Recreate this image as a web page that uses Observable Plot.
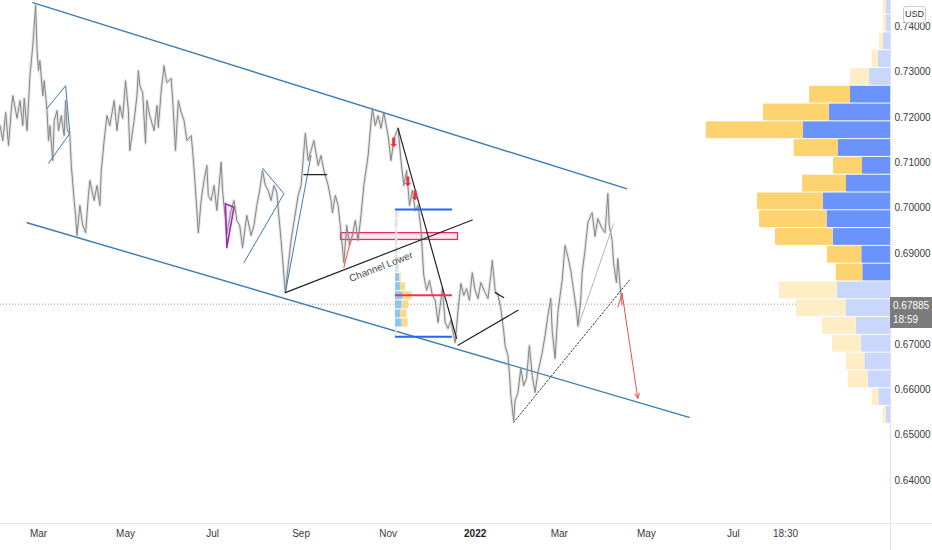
<!DOCTYPE html>
<html><head><meta charset="utf-8">
<script src="https://cdn.jsdelivr.net/npm/d3@7"></script>
<script src="https://cdn.jsdelivr.net/npm/@observablehq/plot@0.6"></script>
<style>
body{margin:0;background:#fff;}
#wrap{position:relative;width:932px;height:550px;overflow:hidden;font-family:"Liberation Sans",Arial,sans-serif;}
#wrap svg{display:block;}
.vline{position:absolute;left:890px;top:0;width:1px;height:550px;background:#e0e3eb;}
.hline{position:absolute;left:0;top:523px;width:932px;height:1px;background:#e0e3eb;}
.pbox{position:absolute;left:890px;width:42px;height:31px;background:#7b7b7b;color:#fff;font-size:10px;line-height:14px;padding-left:3px;box-sizing:border-box;padding-top:2px;}
.usd{position:absolute;left:903px;top:6px;width:21px;height:15px;border:1px solid #c9ccd6;border-radius:3px;font-size:9px;line-height:15px;text-align:center;color:#333;background:#fff;}
</style></head><body><div id="wrap"></div>
<script>
// ---- price series (close) ----
const closeSeries = [
["2021-02-02",0.7182],["2021-02-04",0.7149],["2021-02-06",0.7211],["2021-02-08",0.7138],["2021-02-10",0.7220],
["2021-02-11",0.7248],["2021-02-14",0.7198],["2021-02-16",0.7237],["2021-02-18",0.7182],["2021-02-19",0.7242],
["2021-02-21",0.7171],["2021-02-23",0.7292],["2021-02-24",0.7325],["2021-02-25",0.7358],["2021-02-27",0.7447],
["2021-02-28",0.7347],["2021-03-01",0.7303],["2021-03-02",0.7325],["2021-03-04",0.7248],["2021-03-05",0.7281],
["2021-03-07",0.7215],["2021-03-08",0.7149],["2021-03-09",0.7182],["2021-03-11",0.7105],["2021-03-12",0.7193],
["2021-03-14",0.7215],["2021-03-15",0.7171],["2021-03-17",0.7204],["2021-03-19",0.7160],["2021-03-20",0.7237],
["2021-03-21",0.7176],["2021-03-23",0.7160],["2021-03-24",0.7094],["2021-03-26",0.7017],["2021-03-27",0.6984],
["2021-03-28",0.6940],["2021-03-30",0.7006],["2021-04-01",0.6962],["2021-04-03",0.6946],["2021-04-05",0.7028],
["2021-04-06",0.7061],["2021-04-09",0.7017],["2021-04-11",0.7050],["2021-04-13",0.7006],["2021-04-14",0.7083],
["2021-04-16",0.7149],["2021-04-18",0.7204],["2021-04-20",0.7182],["2021-04-23",0.7237],["2021-04-25",0.7171],
["2021-04-27",0.7226],["2021-04-29",0.7198],["2021-05-01",0.7281],["2021-05-03",0.7215],["2021-05-04",0.7127],
["2021-05-07",0.7193],["2021-05-09",0.7248],["2021-05-10",0.7303],["2021-05-11",0.7270],["2021-05-13",0.7255],
["2021-05-15",0.7143],["2021-05-16",0.7237],["2021-05-18",0.7204],["2021-05-21",0.7171],["2021-05-23",0.7226],
["2021-05-24",0.7178],["2021-05-26",0.7259],["2021-05-28",0.7314],["2021-05-29",0.7292],["2021-05-30",0.7277],
["2021-06-02",0.7286],["2021-06-03",0.7242],["2021-06-05",0.7127],["2021-06-07",0.7237],["2021-06-09",0.7211],
["2021-06-11",0.7193],["2021-06-13",0.7149],["2021-06-16",0.7160],["2021-06-17",0.7127],["2021-06-18",0.7088],
["2021-06-20",0.6995],["2021-06-21",0.6946],["2021-06-23",0.7017],["2021-06-25",0.7061],["2021-06-27",0.7094],
["2021-06-28",0.7028],["2021-06-30",0.7017],["2021-07-02",0.7050],["2021-07-04",0.6995],["2021-07-07",0.7101],
["2021-07-08",0.7039],["2021-07-09",0.7006],["2021-07-11",0.6944],["2021-07-14",0.6995],["2021-07-16",0.7017],
["2021-07-18",0.6973],["2021-07-20",0.6962],["2021-07-22",0.6913],["2021-07-24",0.6962],["2021-07-25",0.6984],
["2021-07-28",0.6940],["2021-07-30",0.6962],["2021-08-01",0.7006],["2021-08-03",0.7039],["2021-08-05",0.7083],
["2021-08-07",0.7050],["2021-08-09",0.7039],["2021-08-11",0.7017],["2021-08-13",0.7050],["2021-08-15",0.7035],
["2021-08-18",0.6929],["2021-08-20",0.6852],["2021-08-21",0.6814],["2021-08-23",0.6874],["2021-08-25",0.6929],
["2021-08-27",0.6969],["2021-08-30",0.7028],["2021-09-01",0.7050],["2021-09-03",0.7127],["2021-09-04",0.7165],
["2021-09-06",0.7105],["2021-09-08",0.7127],["2021-09-10",0.7149],["2021-09-13",0.7094],["2021-09-15",0.7116],
["2021-09-17",0.7083],["2021-09-20",0.7050],["2021-09-22",0.7017],["2021-09-23",0.6990],["2021-09-25",0.7028],
["2021-09-27",0.7006],["2021-09-29",0.6946],["2021-10-01",0.6880],["2021-10-03",0.6962],["2021-10-05",0.6918],
["2021-10-07",0.6940],["2021-10-09",0.6973],["2021-10-11",0.6929],["2021-10-13",0.6984],["2021-10-15",0.7050],
["2021-10-18",0.7116],["2021-10-20",0.7189],["2021-10-21",0.7220],["2021-10-23",0.7182],["2021-10-25",0.7204],
["2021-10-27",0.7176],["2021-10-29",0.7211],["2021-11-01",0.7160],["2021-11-03",0.7105],["2021-11-05",0.7149],
["2021-11-06",0.7160],["2021-11-08",0.7176],["2021-11-10",0.7105],["2021-11-12",0.7050],["2021-11-14",0.7083],
["2021-11-16",0.7006],["2021-11-18",0.7039],["2021-11-20",0.6995],["2021-11-22",0.7006],["2021-11-24",0.6955],
["2021-11-26",0.6852],["2021-11-28",0.6819],["2021-11-30",0.6841],["2021-12-02",0.6808],["2021-12-04",0.6797],
["2021-12-06",0.6748],["2021-12-08",0.6797],["2021-12-09",0.6823],["2021-12-11",0.6748],["2021-12-13",0.6735],
["2021-12-15",0.6753],["2021-12-17",0.6719],["2021-12-18",0.6704],["2021-12-20",0.6775],["2021-12-22",0.6834],
["2021-12-24",0.6808],["2021-12-26",0.6823],["2021-12-28",0.6797],["2021-12-30",0.6858],["2022-01-01",0.6819],
["2022-01-03",0.6801],["2022-01-05",0.6836],["2022-01-08",0.6814],["2022-01-10",0.6801],["2022-01-12",0.6852],
["2022-01-13",0.6885],["2022-01-15",0.6819],["2022-01-17",0.6808],["2022-01-19",0.6779],["2022-01-21",0.6730],
["2022-01-22",0.6697],["2022-01-24",0.6675],["2022-01-25",0.6638],["2022-01-26",0.6587],["2022-01-28",0.6532],
["2022-01-29",0.6576],["2022-01-31",0.6594],["2022-02-02",0.6647],["2022-02-04",0.6609],["2022-02-06",0.6625],
["2022-02-08",0.6697],["2022-02-10",0.6631],["2022-02-12",0.6594],["2022-02-14",0.6638],["2022-02-17",0.6682],
["2022-02-19",0.6719],["2022-02-21",0.6764],["2022-02-23",0.6801],["2022-02-24",0.6730],["2022-02-26",0.6669],
["2022-02-28",0.6770],["2022-03-02",0.6819],["2022-03-03",0.6841],["2022-03-05",0.6918],["2022-03-07",0.6893],
["2022-03-09",0.6863],["2022-03-11",0.6819],["2022-03-13",0.6775],["2022-03-14",0.6741],["2022-03-16",0.6797],
["2022-03-17",0.6858],["2022-03-19",0.6907],["2022-03-21",0.6968],["2022-03-23",0.6984],["2022-03-24",0.6990],
["2022-03-26",0.6938],["2022-03-28",0.6977],["2022-03-31",0.6955],["2022-04-02",0.6946],["2022-04-04",0.7032],
["2022-04-05",0.6962],["2022-04-07",0.6929],["2022-04-08",0.6880],["2022-04-10",0.6836],["2022-04-11",0.6889],
["2022-04-13",0.6814],["2022-04-14",0.67885]
];
const lastPrice = 0.67885;
const lastLabel = ["0.67885", "18:59"];

// ---- axes ----
const xTickDates = ["2021-03-01","2021-05-01","2021-07-01","2021-09-01","2021-11-01","2022-01-01","2022-03-01","2022-05-01","2022-07-01","2022-08-06T12:00Z"];
const xTickLabels = ["Mar","May","Jul","Sep","Nov","2022","Mar","May","Jul","18:30"];
const yTicks = [0.64,0.65,0.66,0.67,0.69,0.70,0.71,0.72,0.73,0.74];
const xView = ["2021-02-02T09:00Z","2022-10-19T02:00Z"];
const yView = [0.63052, 0.74577];

// ---- drawings ----
const channelUpper = [["2021-02-25",0.7453],["2022-04-17",0.7043]];
const channelLower = [["2021-02-21",0.6968],["2022-05-31",0.6539]];
const flagMar = [["2021-03-07",0.7220],["2021-03-20",0.7270],["2021-03-23",0.7165],["2021-03-08",0.7099]];
const wedgeJul = [["2021-07-10",0.7010],["2021-07-16",0.7002],["2021-07-11",0.6913],["2021-07-10",0.7010]];
const triAug = [["2021-08-05",0.7088],["2021-08-20",0.7032],["2021-07-23",0.6880]];
const legAug = [["2021-08-21",0.6814],["2021-09-08",0.7116]];
const flatSep = [["2021-09-03",0.7074],["2021-09-19",0.7074]];
const channelLowerTrend = [["2021-08-21",0.6814],["2021-12-30",0.6974]];
const channelLowerLabel = [["2021-10-27",0.6871,"Channel Lower"]];
const redLegOct = [["2021-10-01",0.6869],["2021-10-06",0.6933]];
const pinkZone = [["2021-09-29","2021-12-20",0.6930,0.6945]];
const dropNov = [["2021-11-08",0.7176],["2021-12-19",0.6713]];
const redMarks = [["2021-11-05",0.7145],["2021-11-15",0.7059],["2021-11-20",0.7028]];
const decLine = [["2021-12-20",0.6698],["2022-01-31",0.6775]];
const janTick = [["2022-01-15",0.6814],["2022-01-21",0.6803]];
const marLine = [["2022-03-14",0.6737],["2022-04-08",0.6966]];
const dottedSupport = [["2022-01-28",0.6528],["2022-04-20",0.6845]];
const projectionStub = [["2022-04-11",0.6782],["2022-04-14",0.6812]];
const projectionArrow = [["2022-04-14",0.6812,"2022-04-25",0.6581]];

// ---- fixed range volume profile (Nov-Dec 2021) ----
const frRange = ["2021-11-06T04:30Z","2021-12-16T03:00Z"];
const frLevels = [["VAH",0.6997],["POC",0.6808],["VAL",0.6717]];
const frLow = 0.6717, frStep = 0.0020;
const frUp   = [1, 6.7, 5, 6.7, 7.7, 5, 4.3, 3.5, 2.5, 2, 2, 1.5, 2, 2.5];
const frDown = [0.5, 6, 6.7, 6.6, 9, 5, 1.5, 0.8, 0.5, 0.5, 0.5, 0.8, 1, 1.5];
const frStrong = [1, 6];
const frWidthShare = 0.29;

// ---- visible range volume profile ----
const vpLow = 0.6525, vpStep = 0.00392;
const vpDown = [3.3,6.6,20,18.3,28.7,33.7,49.7,57.7,26.6,34.3,57.7,67.7,65.7,44,29,44.3,97.3,66,41,19,6.3,4,3,3];
const vpUp   = [4,11.7,22.3,25.7,29.3,34.3,44.3,53.3,27.7,28.7,57.3,63.3,67.3,44,28,52,87,61,40,21,12,7,4,4];
const vpValueArea = [8, 18];
const vpWidthShare = 0.207;

// ---- build ----
const D = s => new Date(s.length === 10 ? s + "T00:00Z" : s);
const pts = a => a.map(([d, p]) => ({date: D(d), price: p}));
const series = pts(closeSeries);
const xStart = D(xView[0]), xEnd = D(xView[1]);
const span = xEnd - xStart;

const vpMax = d3.max(vpUp, (u, i) => u + vpDown[i]);
const vpUnit = vpWidthShare * span / vpMax;
const vpRows = vpUp.map((up, i) => {
  const va = i >= vpValueArea[0] && i <= vpValueArea[1];
  return {lo: vpLow + i*vpStep, hi: vpLow + (i+1)*vpStep, up, down: vpDown[i], va};
});
const vpRects = vpRows.flatMap(r => [
  {x1: new Date(+xEnd - r.up*vpUnit), x2: xEnd, y1: r.lo, y2: r.hi, fill: r.va ? "#6a93fb" : "#c9d7fd"},
  {x1: new Date(+xEnd - (r.up+r.down)*vpUnit), x2: new Date(+xEnd - r.up*vpUnit), y1: r.lo, y2: r.hi, fill: r.va ? "#fdd36f" : "#ffedc6"}
]);

const frS = D(frRange[0]), frE = D(frRange[1]);
const frMax = d3.max(frUp, (u, i) => u + frDown[i]);
const frUnit = frWidthShare * (frE - frS) / frMax;
const frRects = frUp.flatMap((up, i) => {
  const strong = i >= frStrong[0] && i <= frStrong[1];
  const lo = frLow + i*frStep, hi = frLow + (i+1)*frStep;
  return [
    {x1: frS, x2: new Date(+frS + up*frUnit), y1: lo, y2: hi, fill: strong ? "#8ec5f2" : "#cfe4f7"},
    {x1: new Date(+frS + up*frUnit), x2: new Date(+frS + (up+frDown[i])*frUnit), y1: lo, y2: hi, fill: strong ? "#fbd98c" : "#fdefcc"}
  ];
});
const frLines = frLevels.map(([name, p]) => ({name, p, x1: frS, x2: frE}));

const ticks = xTickDates.map((d, i) => ({date: D(d), label: xTickLabels[i]}));
const steel = "#3c7cb4";
const L = (data, o) => Plot.line(pts(data), {x: "date", y: "price", ...o});

const chart = Plot.plot({
  width: 932, height: 550,
  marginTop: 0, marginBottom: 27, marginLeft: 0, marginRight: 42,
  style: {fontFamily: '"Liberation Sans",Arial,sans-serif', fontSize: "10px", color: "#3a3a3a", background: "#fff"},
  x: {type: "utc", domain: [xStart, xEnd], axis: null},
  y: {domain: yView, axis: "right", ticks: yTicks, tickFormat: d3.format(".5f"), tickSize: 0, tickPadding: 4, label: null},
  color: {type: "identity"},
  marks: [
    Plot.ruleY([lastPrice], {stroke: "#9a9a9a", strokeDasharray: "1 2", strokeWidth: 1}),
    L(channelUpper, {stroke: steel, strokeWidth: 1.4}),
    L(channelLower, {stroke: steel, strokeWidth: 1.4}),
    Plot.rect(pinkZone, {x1: d => D(d[0]), x2: d => D(d[1]), y1: d => d[2], y2: d => d[3], fill: "#f8c8da", fillOpacity: 0.45, stroke: "#e0306a", strokeWidth: 1.3}),
    Plot.rect(frRects, {x1: "x1", x2: "x2", y1: "y1", y2: "y2", fill: "fill", insetTop: 0.5, insetBottom: 0.5}),
    Plot.line(series, {x: "date", y: "price", stroke: "#9b9b9b", strokeWidth: 3.2, strokeOpacity: 0.25}),
    Plot.line(series, {x: "date", y: "price", stroke: "#868686", strokeWidth: 1}),
    L(flagMar, {stroke: steel, strokeWidth: 1}),
    L(wedgeJul, {stroke: "#a02bb5", strokeWidth: 1.6, fill: "#c77dd6", fillOpacity: 0.15}),
    L(triAug, {stroke: steel, strokeWidth: 1}),
    L(legAug, {stroke: steel, strokeWidth: 1}),
    L(flatSep, {stroke: "#222", strokeWidth: 1.2}),
    L(channelLowerTrend, {stroke: "#222", strokeWidth: 1.2}),
    Plot.text(channelLowerLabel, {x: d => D(d[0]), y: d => d[1], text: d => d[2], rotate: -21.2, fontSize: 10, fill: "#4a4a4a"}),
    L(redLegOct, {stroke: "#ef6a5a", strokeWidth: 1.2}),
    L(dropNov, {stroke: "#222", strokeWidth: 1.2}),
    Plot.text(redMarks, {x: d => D(d[0]), y: d => d[1], text: () => "⬇", fontSize: 13, fontFamily: "DejaVu Sans", fill: "#f2303f"}),
    Plot.ruleY(frLines, {x1: "x1", x2: "x2", y: "p", stroke: d => d.name === "POC" ? "#f23645" : "#2962ff", strokeWidth: 2}),
    L(decLine, {stroke: "#222", strokeWidth: 1.2}),
    L(janTick, {stroke: "#222", strokeWidth: 1.2}),
    L(marLine, {stroke: "#b5b5b5", strokeWidth: 1}),
    L(dottedSupport, {stroke: "#333", strokeWidth: 1, strokeDasharray: "1.5 2"}),
    L(projectionStub, {stroke: "#ef5350", strokeWidth: 1}),
    Plot.arrow(projectionArrow, {x1: d => D(d[0]), y1: d => d[1], x2: d => D(d[2]), y2: d => d[3], stroke: "#ef5350", strokeWidth: 1, headLength: 8, headAngle: 50}),
    Plot.rect(vpRects, {x1: "x1", x2: "x2", y1: "y1", y2: "y2", fill: "fill", insetTop: 0.5, insetBottom: 0.5}),
    Plot.text(ticks.filter(t => t.label !== "2022"), {x: "date", text: "label", frameAnchor: "bottom", dy: 13, fontSize: 10, fill: "#3a3a3a"}),
    Plot.text(ticks.filter(t => t.label === "2022"), {x: "date", text: "label", frameAnchor: "bottom", dy: 13, fontSize: 10, fontWeight: "bold", fill: "#222"})
  ]
});

const wrap = document.getElementById("wrap");
wrap.appendChild(chart);
const v = document.createElement("div"); v.className = "vline"; wrap.appendChild(v);
const h = document.createElement("div"); h.className = "hline"; wrap.appendChild(h);
const yPx = chart.scale("y").apply(lastPrice);
const box = document.createElement("div"); box.className = "pbox";
box.style.top = (yPx - 7) + "px";
box.innerHTML = lastLabel[0] + "<br>" + lastLabel[1];
wrap.appendChild(box);
const usd = document.createElement("div"); usd.className = "usd"; usd.textContent = "USD"; wrap.appendChild(usd);
</script>
</body></html>
